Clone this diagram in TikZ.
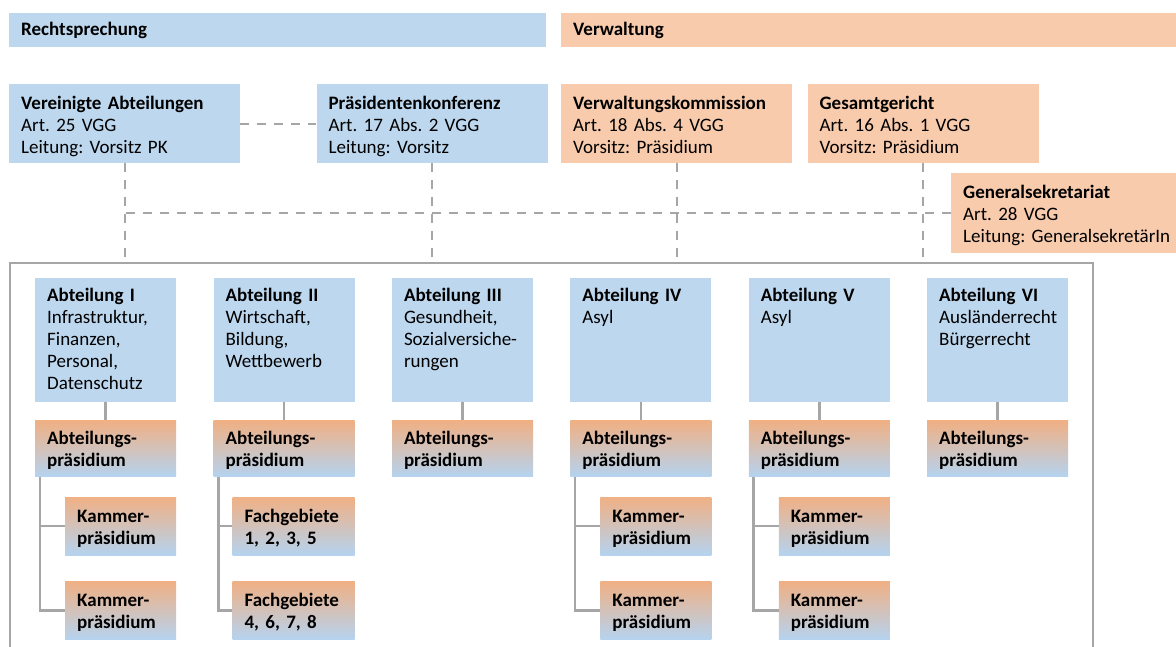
\documentclass[tikz,border=0pt]{standalone}
\usepackage{fontspec}
\setmainfont{Carlito}
\usepackage{tikz}
\usetikzlibrary{positioning}
\definecolor{rs-blue}{HTML}{BDD7EE}
\definecolor{vw-orange}{HTML}{F8CBAD}
\definecolor{ap-top}{HTML}{F0B084}
\definecolor{ap-bottom}{HTML}{B5D3EF}
\definecolor{line-gray}{HTML}{A6A6A6}
\newcommand{\chartfont}{\fontsize{19pt}{22pt}\selectfont\frenchspacing}

\begin{document}
\begin{tikzpicture}[x=1pt, y=-1pt,
    every node/.style={font=\chartfont, align=left, inner xsep=12pt, inner ysep=0pt, anchor=north west},
    bar/.style={minimum height=34pt},
    head/.style={text width=207pt, text height=25pt, text depth=54pt},
    abt/.style={fill=rs-blue, text width=117pt, text height=23pt, text depth=101pt},
    praes/.style={top color=ap-top, bottom color=ap-bottom, font=\chartfont\bfseries,
        text width=117pt, text height=24pt, text depth=32pt},
    kammer/.style={top color=ap-top, bottom color=ap-bottom, font=\chartfont\bfseries,
        text width=87pt, text height=25pt, text depth=33pt, anchor=north east},
    dash line/.style={line-gray, line width=2pt, dash pattern=on 9pt off 8pt},
    tree/.style={line-gray, line width=2.5pt},
    frame/.style={line-gray, line width=1.4pt}]
    \useasboundingbox (0,0) rectangle (1176,646);

    % Kopfzeile
    \node[bar, fill=rs-blue, text width=513pt] (rspr) at (9,13) {\textbf{Rechtsprechung}};
    \node[bar, fill=vw-orange, text width=591pt] (verw) at (561,13) {\textbf{Verwaltung}};

    % Gremien
    \node[head, fill=rs-blue] (verab) at (9,84) {\textbf{Vereinigte Abteilungen}\\Art. 25 VGG\\Leitung: Vorsitz PK};
    \node[head, fill=rs-blue, right=76pt of verab] (pk) {\textbf{Präsidentenkonferenz}\\Art. 17 Abs. 2 VGG\\Leitung: Vorsitz};
    \node[head, fill=vw-orange] (vk) at (561,84) {\textbf{Verwaltungskommission}\\Art. 18 Abs. 4 VGG\\Vorsitz: Präsidium};
    \node[head, fill=vw-orange, right=15pt of vk] (gg) {\textbf{Gesamtgericht}\\Art. 16 Abs. 1 VGG\\Vorsitz: Präsidium};
    \node[head, fill=vw-orange, text width=215pt, text depth=55pt] (gs) at (951,173) {\textbf{Generalsekretariat}\\Art. 28 VGG\\Leitung: GeneralsekretärIn};

    % Rahmen
    \coordinate (frameTL) at (10,263);
    \coordinate (frameTR) at (1093,263);
    \draw[frame] (10,650) -- (frameTL) -- (frameTR) -- (1093,650);

    \draw[dash line] (verab) -- (pk);
    \draw[dash line] (verab) -- (verab |- frameTL);
    \draw[dash line] (pk) -- (pk |- frameTL);
    \draw[dash line] (vk) -- (vk |- frameTL);
    \draw[dash line] (gg) -- (gg |- frameTL);
    \draw[dash line] (gs) -- (gs -| verab);

    % Abteilungen
    \node[abt] (abtI) at (35,278) {\textbf{Abteilung I}\\Infrastruktur,\\Finanzen,\\Personal,\\Datenschutz};
    \node[abt, right=37pt of abtI] (abtII) {\textbf{Abteilung II}\\Wirtschaft,\\Bildung,\\Wettbewerb};
    \node[abt, right=37pt of abtII] (abtIII) {\textbf{Abteilung III}\\Gesundheit,\\Sozialversiche-\\rungen};
    \node[abt, right=37pt of abtIII] (abtIV) {\textbf{Abteilung IV}\\Asyl};
    \node[abt, right=37pt of abtIV] (abtV) {\textbf{Abteilung V}\\Asyl};
    \node[abt, right=37pt of abtV] (abtVI) {\textbf{Abteilung VI}\\Ausländerrecht\\Bürgerrecht};

    \node[praes, below=18pt of abtI] (apI) {Abteilungs-\\präsidium};
    \node[praes, below=18pt of abtII] (apII) {Abteilungs-\\präsidium};
    \node[praes, below=18pt of abtIII] (apIII) {Abteilungs-\\präsidium};
    \node[praes, below=18pt of abtIV] (apIV) {Abteilungs-\\präsidium};
    \node[praes, below=18pt of abtV] (apV) {Abteilungs-\\präsidium};
    \node[praes, below=18pt of abtVI] (apVI) {Abteilungs-\\präsidium};

    \draw[tree] (abtI) -- (apI) (abtII) -- (apII) (abtIII) -- (apIII)
        (abtIV) -- (apIV) (abtV) -- (apV) (abtVI) -- (apVI);

    % Kammern und Fachgebiete
    \node[below=20pt of apI.south east, kammer] (kaIa) {Kammer-\\präsidium};
    \node[below=26pt of kaIa.south east, kammer] (kaIb) {Kammer-\\präsidium};
    \node[below=20pt of apII.south east, kammer, text width=98pt] (fgA) {Fachgebiete\\1, 2, 3, 5};
    \node[below=26pt of fgA.south east, kammer, text width=98pt] (fgB) {Fachgebiete\\4, 6, 7, 8};
    \node[below=20pt of apIV.south east, kammer] (kaIVa) {Kammer-\\präsidium};
    \node[below=26pt of kaIVa.south east, kammer] (kaIVb) {Kammer-\\präsidium};
    \node[below=20pt of apV.south east, kammer] (kaVa) {Kammer-\\präsidium};
    \node[below=26pt of kaVa.south east, kammer] (kaVb) {Kammer-\\präsidium};

    \draw[tree] ([xshift=5pt]apI.south west) |- (kaIa.west) ([xshift=5pt]apI.south west) |- (kaIb.west);
    \draw[tree] ([xshift=5pt]apII.south west) |- (fgA.west) ([xshift=5pt]apII.south west) |- (fgB.west);
    \draw[tree] ([xshift=5pt]apIV.south west) |- (kaIVa.west) ([xshift=5pt]apIV.south west) |- (kaIVb.west);
    \draw[tree] ([xshift=5pt]apV.south west) |- (kaVa.west) ([xshift=5pt]apV.south west) |- (kaVb.west);
\end{tikzpicture}
\end{document}
